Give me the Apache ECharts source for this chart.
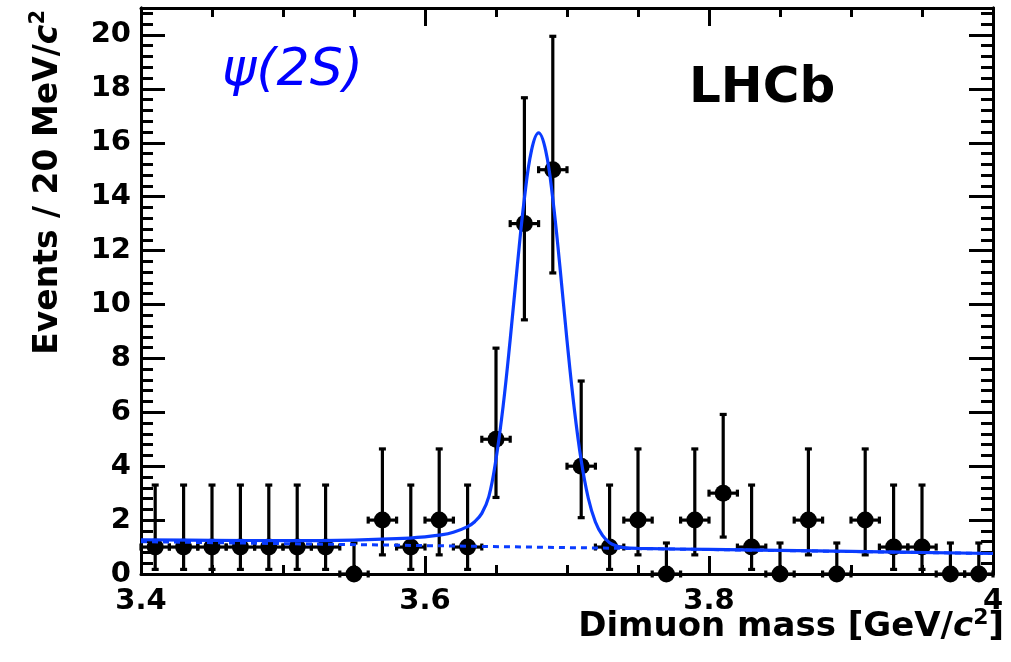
<!DOCTYPE html>
<html>
<head>
<meta charset="utf-8">
<script src="https://cdn.jsdelivr.net/npm/echarts@6/dist/echarts.min.js"></script>
<style>
  html, body { margin: 0; padding: 0; background: #fff; }
  #chart { width: 1011px; height: 662px; }
</style>
</head>
<body>
<div id="chart"></div>
<script>
// Dimuon mass histogram, 20 MeV/c^2 bins (bin centres in GeV/c^2)
const massBins = [3.41, 3.43, 3.45, 3.47, 3.49, 3.51, 3.53, 3.55, 3.57, 3.59,
                  3.61, 3.63, 3.65, 3.67, 3.69, 3.71, 3.73, 3.75, 3.77, 3.79,
                  3.81, 3.83, 3.85, 3.87, 3.89, 3.91, 3.93, 3.95, 3.97, 3.99];
const counts   = [1, 1, 1, 1, 1, 1, 1, 0, 2, 1,
                  2, 1, 5, 13, 15, 4, 1, 2, 0, 2,
                  3, 1, 0, 2, 0, 2, 1, 1, 0, 0];
// Asymmetric Poisson uncertainties (down / up)
const errDown  = [0.83, 0.83, 0.83, 0.83, 0.83, 0.83, 0.83, 0, 1.29, 0.83,
                  1.29, 0.83, 2.16, 3.57, 3.83, 1.91, 0.83, 1.29, 0, 1.29,
                  1.63, 0.83, 0, 1.29, 0, 1.29, 0.83, 0.83, 0, 0];
const errUp    = [2.30, 2.30, 2.30, 2.30, 2.30, 2.30, 2.30, 1.15, 2.64, 2.30,
                  2.64, 2.30, 3.38, 4.67, 4.95, 3.16, 2.30, 2.64, 1.15, 2.64,
                  2.92, 2.30, 1.15, 2.64, 1.15, 2.64, 2.30, 2.30, 1.15, 1.15];
const binHalfWidth = 0.01;

// Fit result: signal + background (solid) and background only (dashed)
const fitMass  = [3.40, 3.45, 3.50, 3.55, 3.58, 3.60, 3.61, 3.62, 3.63, 3.635,
                  3.64, 3.645, 3.65, 3.655, 3.66, 3.665, 3.67, 3.675, 3.68, 3.685,
                  3.69, 3.695, 3.70, 3.705, 3.71, 3.715, 3.72, 3.725, 3.73, 3.735,
                  3.74, 3.75, 3.80, 3.90, 4.00];
const fitTotal = [1.27, 1.25, 1.24, 1.26, 1.31, 1.38, 1.44, 1.55, 1.76, 1.94,
                  2.25, 2.88, 4.26, 6.22, 8.70, 11.43, 13.93, 15.72, 16.37, 15.71,
                  13.92, 11.41, 8.67, 6.19, 4.21, 2.81, 1.93, 1.43, 1.16, 1.04,
                  0.98, 0.95, 0.91, 0.84, 0.76];
const bkgMass   = [3.40, 4.00];
const bkgValues = [1.20, 0.76];

const FONT = '"DejaVu Sans", "Liberation Sans", sans-serif';
const BLACK = '#000';
const BLUE = '#0a3cff';

const chart = echarts.init(document.getElementById('chart'), null, { renderer: 'canvas' });

const pointData = massBins.map((m, i) => [m, counts[i]]);
const errData = massBins.map((m, i) => [m, counts[i] - errDown[i], counts[i] + errUp[i], counts[i]]);
const fitData = fitMass.map((m, i) => [m, fitTotal[i]]);
const bkgData = bkgMass.map((m, i) => [m, bkgValues[i]]);

function renderErrorBar(params, api) {
  const x = api.value(0), lo = api.value(1), hi = api.value(2), y = api.value(3);
  const top = api.coord([x, hi]);
  const bot = api.coord([x, lo]);
  const left = api.coord([x - binHalfWidth, y]);
  const right = api.coord([x + binHalfWidth, y]);
  const style = { stroke: BLACK, lineWidth: 3.2 };
  const cap = 3.5;
  const kids = [
    { type: 'line', shape: { x1: top[0], y1: top[1], x2: bot[0], y2: bot[1] }, style },
    { type: 'line', shape: { x1: top[0] - cap, y1: top[1], x2: top[0] + cap, y2: top[1] }, style },
    { type: 'line', shape: { x1: left[0], y1: left[1], x2: right[0], y2: right[1] }, style },
    { type: 'line', shape: { x1: left[0], y1: left[1] - cap, x2: left[0], y2: left[1] + cap }, style },
    { type: 'line', shape: { x1: right[0], y1: right[1] - cap, x2: right[0], y2: right[1] + cap }, style }
  ];
  if (lo > 0) {
    kids.push({ type: 'line', shape: { x1: bot[0] - cap, y1: bot[1], x2: bot[0] + cap, y2: bot[1] }, style });
  }
  return { type: 'group', children: kids };
}

const axisLine = { show: true, onZero: false, lineStyle: { color: BLACK, width: 3 } };
const labelStyle = { fontFamily: FONT, fontWeight: 'bold', fontSize: 29, color: BLACK };

function xAxisDef(pos, withLabels) {
  return {
    type: 'value', position: pos, min: 3.4, max: 4.0, interval: 0.2,
    axisLine,
    axisTick: { show: true, inside: true, length: 18, lineStyle: { color: BLACK, width: 3 } },
    minorTick: { show: true, splitNumber: 4, length: 9, lineStyle: { color: BLACK, width: 3 } },
    axisLabel: withLabels ? Object.assign({ show: true, margin: 13 }, labelStyle) : { show: false },
    splitLine: { show: false }, minorSplitLine: { show: false }
  };
}
function yAxisDef(pos, interval, tickLen, withLabels) {
  return {
    type: 'value', position: pos, min: 0, max: 21, interval,
    axisLine,
    axisTick: { show: true, inside: true, length: tickLen, lineStyle: { color: BLACK, width: 3 } },
    axisLabel: withLabels ? Object.assign({ show: true, margin: 10, showMaxLabel: false }, labelStyle) : { show: false },
    splitLine: { show: false }
  };
}

function titleRich(size) {
  return {
    t: { fontFamily: FONT, fontWeight: 'bold', fontSize: size, fill: BLACK, lineHeight: 40 },
    c: { fontFamily: FONT, fontWeight: 'bold', fontStyle: 'italic', fontSize: size, fill: BLACK, lineHeight: 40 },
    s: { fontFamily: FONT, fontWeight: 'bold', fontSize: Math.round(size * 0.65), fill: BLACK, lineHeight: 40, verticalAlign: 'top' }
  };
}

chart.setOption({
  animation: false,
  backgroundColor: '#fff',
  grid: { left: 141, right: 18, top: 8, bottom: 88, containLabel: false },
  xAxis: [xAxisDef('bottom', true), xAxisDef('top', false)],
  yAxis: [
    yAxisDef('left', 2, 24, true),
    yAxisDef('left', 0.4, 12, false),
    yAxisDef('right', 2, 24, false),
    yAxisDef('right', 0.4, 12, false)
  ],
  series: [
    {
      type: 'custom', name: 'errors', renderItem: renderErrorBar, data: errData,
      xAxisIndex: 0, yAxisIndex: 0, clip: false, z: 2,
      encode: { x: 0, y: [1, 2, 3] }
    },
    {
      type: 'scatter', name: 'data', data: pointData, symbol: 'circle', symbolSize: 17,
      itemStyle: { color: BLACK, opacity: 1 }, clip: false, z: 3
    },
    {
      type: 'line', name: 'background', data: bkgData, showSymbol: false, z: 4,
      lineStyle: { color: BLUE, width: 3, type: [6, 5] }
    },
    {
      type: 'line', name: 'fit', data: fitData, showSymbol: false, smooth: 0.4, z: 5,
      lineStyle: { color: BLUE, width: 3.2 }
    }
  ],
  graphic: [
    {
      type: 'text', x: 48, y: 10, rotation: Math.PI / 2, z: 10,
      style: { text: '{t|Events / 20 MeV/}{c|c}{s|2}', align: 'right', verticalAlign: 'middle', rich: titleRich(33) }
    },
    {
      type: 'text', x: 1004, y: 627, z: 10,
      style: { text: '{t|Dimuon mass [GeV/}{c|c}{s|2}{t|]}', align: 'right', verticalAlign: 'middle', rich: titleRich(34) }
    },
    {
      type: 'text', x: 689, y: 89, z: 10,
      style: { text: 'LHCb', fontFamily: FONT, fontWeight: 'bold', fontSize: 50, fill: BLACK, align: 'left', verticalAlign: 'middle' }
    },
    {
      type: 'text', x: 222, y: 71, z: 10,
      style: { text: 'ψ(2S)', fontFamily: FONT, fontStyle: 'italic', fontSize: 52, fill: '#0000ff', align: 'left', verticalAlign: 'middle' }
    }
  ]
});
</script>
</body>
</html>
